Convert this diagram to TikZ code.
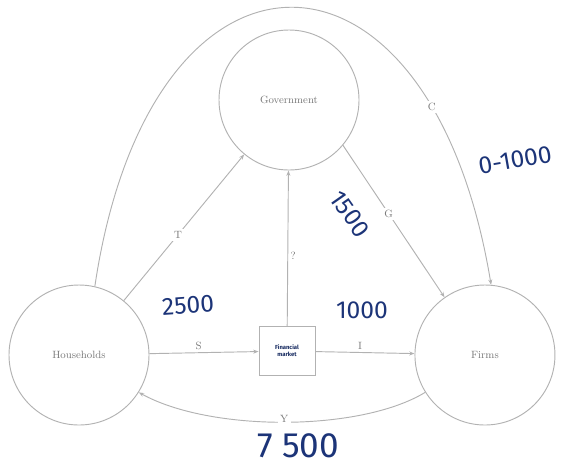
\documentclass[tikz,border=0pt]{standalone}
\usepackage{fontspec}
\newfontfamily\handfont{Fira Sans}
\definecolor{flowGray}{RGB}{178,178,178}
\definecolor{labelGray}{RGB}{120,120,120}
\definecolor{inkBlue}{RGB}{28,52,120}
\usetikzlibrary{arrows.meta, positioning}

\begin{document}
\begin{tikzpicture}[x=0.03cm, y=-0.03cm,
  >={Stealth[length=1.6mm, width=1.2mm]}, node distance=8mm,
  sector/.style={draw=flowGray, thick, circle, minimum size=4.2cm,
                 inner sep=1pt, font=\small, text=labelGray},
  market/.style={draw=flowGray, thick, fill=white, minimum width=1.68cm,
                 minimum height=1.45cm, inner sep=1pt, align=center,
                 font=\tiny\handfont\bfseries, text=inkBlue!80!black},
  flow/.style={->, thick, flowGray},
  lab/.style={font=\small, text=labelGray, inner sep=2pt},
  ink/.style={font=\handfont\fontsize{21}{21}\selectfont, text=inkBlue, inner sep=0pt}]
  \useasboundingbox (0,0) rectangle (568,468);
  \node[sector] (gov) at (289,100) {Government};
  \node[sector] (hh) at (79,355) {Households};
  \node[sector, right=7.95cm of hh] (firms) {Firms};
  \node[market] (fm) at (287,351) {Financial\\market};
  % flows between sectors
  \draw[flow] (hh) -- node[lab, fill=white, pos=0.45]{T} (gov);
  \draw[flow] (gov.-40) -- node[lab, fill=white, pos=0.45]{G} (firms.125);
  \draw[flow] (hh) -- node[lab, above, pos=0.45]{S} (fm);
  \draw[flow] (fm) -- node[lab, above, pos=0.45]{I} (firms);
  \draw[flow] (fm) -- node[lab, right, pos=0.45]{?} (gov);
  \draw[flow] (hh.77) .. controls (150,-85) and (430,-85) .. node[lab, fill=white, pos=0.8]{C} (firms.85);
  \draw[flow] (firms.212) .. controls (360,432) and (210,432) .. node[lab, fill=white, pos=0.5, yshift=1mm]{Y} (hh.328);
  % handwritten figures
  \node[ink, rotate=4] (n2500) at (188,305) {2500};
  \node[ink, rotate=-55] (n1500) at (350,214) {1500};
  \node[ink] (n1000) at (362,310) {1000};
  \node[ink, rotate=10] (nC) at (515,160) {0-1000};
  \node[ink, font=\handfont\fontsize{30}{30}\selectfont] (n7500) at (298,446) {7 500};
\end{tikzpicture}
\end{document}
